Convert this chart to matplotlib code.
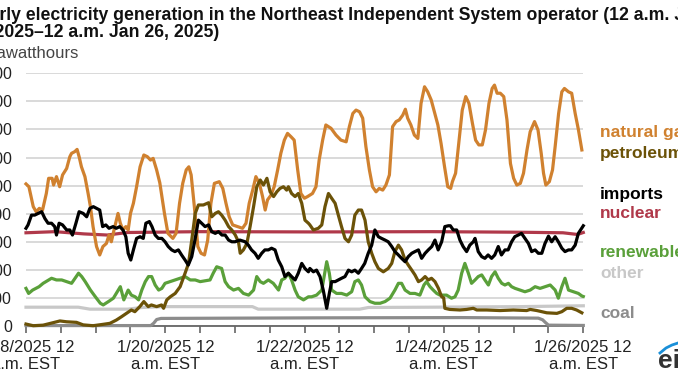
import numpy as np
import matplotlib.pyplot as plt
from matplotlib.lines import Line2D

plt.rcParams['font.family'] = ['Liberation Sans', 'DejaVu Sans']

# hourly generation, megawatthours; (hour since 12 a.m. Jan 18, value)
natural_gas = [(0, 5060), (1, 4960), (2.5, 4250), (3.5, 4070), (4.6, 4190), (5.7, 4130), (7, 4720), (7.8, 5260),
               (9, 5260), (9.5, 5020), (10.5, 5320), (11.6, 4960), (12.6, 5380), (14, 5610), (15.1, 6030),
               (15.7, 6150), (16.8, 6210), (17.6, 6290), (18.3, 6030), (19.1, 5670), (20.3, 5320), (21.4, 4720),
               (22.2, 4250), (23.1, 3540), (24.3, 2830), (25.4, 2530), (26.5, 2830), (27.7, 2940), (28.6, 3240),
               (29.4, 3000), (30.6, 3540), (31.7, 4010), (32.5, 3660), (33.4, 3420), (34.4, 3540), (35.2, 3420),
               (36, 4010), (37, 4370), (38.1, 4960), (39.3, 5670), (40.6, 6090), (41.8, 6030), (42.9, 5910),
               (43.8, 5970), (45, 5560), (46.1, 5100), (47.7, 4010), (48.9, 3300), (50.6, 3120), (51.7, 3300),
               (52.9, 4370), (54, 5080), (55.2, 5560), (56.1, 5670), (56.9, 5380), (58, 4250), (59.2, 2830),
               (60.3, 2590), (61.5, 2530), (62.6, 3060), (63.7, 4370), (64.9, 5080), (66.6, 5140), (67.8, 4900),
               (68.9, 4370), (70, 3890), (71.2, 3600), (72.9, 3540), (74.6, 3480), (75.8, 3660), (76.9, 4370),
               (78.1, 4840), (79.2, 5320), (80.4, 5080), (81.5, 4610), (82.4, 4130), (83.2, 4490), (84.4, 4660),
               (85.5, 4960), (86.7, 5560), (87.8, 6150), (89, 6620), (90.1, 6860), (91.3, 6740), (92.4, 6620),
               (93.6, 5560), (94.7, 4720), (95.9, 4550), (97, 4610), (98.7, 4720), (99.9, 4960), (101, 5910),
               (102.2, 6620), (103.3, 7160), (105.1, 7040), (106.8, 6800), (108.5, 6620), (110.3, 6560),
               (111.4, 7100), (112.6, 7570), (113.7, 7690), (114.9, 7630), (116, 7400), (117.1, 6390),
               (118.3, 5560), (119.4, 4960), (120.6, 4780), (121.7, 4900), (122.9, 4840), (124, 5020),
               (125.2, 5380), (126.3, 7100), (127.5, 7280), (128.6, 7340), (129.8, 7510), (130.7, 7720),
               (131.5, 7400), (132.6, 7160), (133.8, 6800), (135, 6680), (136.1, 7930), (137.3, 8520),
               (138.4, 8340), (139.6, 8050), (140.7, 7630), (141.9, 7160), (143, 6500), (144.2, 5670),
               (145.3, 4960), (146.3, 4900), (146.9, 5140), (148, 5440), (149.2, 6620), (150.3, 7690),
               (151.5, 8170), (152.6, 7930), (153.8, 7220), (154.9, 6620), (156, 6450), (157.2, 6450),
               (158.3, 6980), (159.5, 7930), (160.6, 8460), (161.4, 8580), (162.3, 8290), (163.4, 8290),
               (164.6, 8170), (165.7, 7340), (166.9, 5790), (168, 5260), (169.1, 5020), (170.3, 5080),
               (171.4, 5440), (172.6, 6270), (173.7, 6920), (175.2, 7280), (176.4, 6980), (177.5, 6150),
               (178.3, 5440), (179.1, 5020), (180.3, 5140), (181.4, 5560), (182.3, 6390), (183.5, 7570),
               (184.6, 8340), (185.5, 8460), (186.9, 8340), (188, 8290), (189.2, 7570), (190.3, 7000),
               (191.5, 6270)]

petroleum = [(0, 70), (2.5, 10), (5.9, 30), (9.4, 120), (11.7, 180), (14, 150), (17.4, 130), (19.7, 40),
             (23.1, 10), (26.6, 60), (28.9, 95), (31.1, 210), (32.9, 330), (34.6, 450), (36.3, 570), (37.5, 510),
             (39.2, 690), (40.6, 870), (42.1, 690), (43.2, 750), (45, 690), (46.7, 750), (47.4, 630), (48.5, 930),
             (49.7, 1040), (51.4, 1160), (53.1, 1400), (54.8, 1880), (56, 2230), (57.1, 3060), (58.3, 4010),
             (59.4, 4310), (61.1, 4310), (62.9, 4390), (64, 3890), (65.2, 4010), (66.3, 4070), (67.4, 3950),
             (68.6, 3770), (69.8, 3540), (70.9, 3420), (72.1, 3240), (73.2, 3000), (73.8, 2590), (74.9, 2710),
             (76.1, 2940), (77.2, 3540), (78.4, 4250), (79.5, 4960), (80.7, 5200), (81.8, 5020), (83, 5260),
             (84.1, 4780), (85.3, 4610), (86.4, 4780), (87.5, 4900), (88.7, 4960), (89.8, 4840), (90.4, 4960),
             (91.5, 4720), (92.7, 4610), (93.8, 4720), (95, 4370), (96.1, 3770), (97.3, 3660), (97.8, 3600),
             (99, 3420), (100.7, 3480), (101.9, 3600), (103, 4250), (104.2, 4720), (105.3, 4550), (106.5, 4370),
             (107.6, 3950), (108.7, 3540), (109.9, 3120), (111.1, 3000), (112.2, 3240), (113.3, 3950),
             (114.5, 4130), (115.6, 4130), (116.8, 3770), (117.9, 3000), (119.1, 2590), (120.2, 2290),
             (121.4, 2050), (123.1, 1930), (124.8, 2050), (126, 2230), (127.1, 2650), (128.3, 2880),
             (129.4, 2710), (130.6, 2350), (131.7, 2170), (132.9, 1990), (134, 1820), (135.2, 1580),
             (136.3, 1640), (137.5, 1760), (138.6, 1640), (139.7, 1700), (140.9, 1580), (142.1, 1340),
             (143.2, 1040), (143.9, 1000), (144.3, 630), (146, 590), (149.5, 570), (151.8, 590), (154.1, 630),
             (155.3, 570), (158.7, 570), (163.3, 550), (167.9, 570), (172.5, 550), (173.7, 590), (176, 550),
             (179.4, 470), (182.9, 450), (184.6, 510), (186.3, 630), (188, 630), (189.7, 570), (191.5, 470)]

imports = [(0, 3480), (0.7, 3600), (1.9, 3950), (3, 3950), (4.2, 4010), (5.4, 4070), (6.5, 3830), (7.6, 3660),
           (8.8, 3660), (9.9, 3540), (10.5, 3240), (11.4, 3660), (12.6, 3600), (14, 3420), (15.1, 3420),
           (16, 3240), (17.2, 3660), (18.3, 4070), (19.7, 4010), (20.9, 3890), (22, 4190), (23.2, 4250),
           (24.3, 4190), (25.4, 4130), (26.4, 3540), (27.5, 3600), (28.6, 3480), (30, 3540), (31.1, 3480),
           (32.3, 3540), (33.4, 3420), (34.4, 3180), (35.2, 2590), (36.1, 2350), (37, 2710), (38.1, 3120),
           (39.3, 3180), (40.4, 3120), (41.3, 3660), (42.5, 3720), (43.4, 3540), (44.5, 3240), (45.6, 3120),
           (46.8, 3120), (47.9, 3000), (49, 2830), (50.2, 2710), (51.3, 2650), (52.5, 2710), (53.6, 2530),
           (54.8, 2350), (55.9, 2170), (57.1, 2470), (58.2, 3060), (59.4, 3770), (60.5, 3660), (61.7, 3540),
           (62.9, 3600), (64, 3360), (65.2, 3300), (66.3, 3360), (67.5, 3240), (68.6, 3240), (69.8, 3060),
           (70.9, 3000), (72, 3000), (73.7, 3060), (75.5, 3000), (76.6, 2880), (77.7, 2710), (78.9, 2590),
           (80, 2410), (81.2, 2590), (82.3, 2710), (83.5, 2710), (84.6, 2770), (85.8, 2710), (86.9, 2350),
           (88.1, 2110), (89.2, 1760), (90.4, 1880), (91.5, 1760), (92.7, 1640), (93.8, 1880), (95, 2230),
           (96.1, 2050), (97.3, 1930), (97.8, 2050), (99, 1930), (100.1, 1990), (101.3, 1760), (102.4, 1280),
           (103.6, 630), (104.5, 1160), (105.3, 1580), (106.5, 1580), (107.6, 1640), (108.7, 1700),
           (109.9, 1760), (111.1, 1990), (112.2, 1930), (113.3, 1990), (114.5, 1880), (115.6, 2050),
           (116.7, 2230), (117.9, 2590), (119.1, 2880), (120.2, 3420), (121.4, 3180), (122.5, 3120),
           (123.7, 3060), (124.8, 3000), (126, 2830), (127.1, 2650), (128.3, 2530), (129.4, 2410),
           (130.6, 2290), (131.7, 2470), (132.9, 2590), (134, 2650), (135.2, 2710), (136.3, 2410),
           (137.5, 2590), (138.6, 2710), (139.8, 2830), (140.9, 3060), (142, 2710), (143.2, 3000),
           (144.3, 3540), (145.5, 3570), (146.2, 3570), (147.2, 3420), (148.4, 3420), (149.5, 3060),
           (150.6, 2830), (151.8, 2650), (152.9, 2880), (154.1, 3000), (154.7, 3120), (155.8, 2650),
           (157, 2470), (158.1, 2410), (159.2, 2530), (160.4, 2410), (161.5, 2530), (162.7, 2830),
           (163.8, 2530), (165, 2710), (166.1, 2710), (167.3, 3000), (168.4, 3180), (169.6, 3240),
           (170.7, 3300), (171.9, 3120), (173.1, 2940), (174.2, 2650), (175.4, 2710), (176.5, 2590),
           (177.7, 2590), (178.8, 2940), (180, 3200), (181.1, 3000), (182.3, 3180), (183.4, 3000),
           (184.6, 2770), (185.7, 2650), (186.9, 2710), (188, 2710), (189.2, 2880), (190.3, 3300), (192, 3570)]

nuclear = [(0, 3320), (10, 3360), (20, 3280), (28, 3240), (35, 3330), (60, 3360), (100, 3350), (140, 3360),
           (170, 3340), (185, 3320), (190, 3260), (192, 3330)]

renewables = [(0, 1340), (0.9, 1160), (2.3, 1280), (4.5, 1400), (5.9, 1520), (7.8, 1640), (8.8, 1700),
              (10.5, 1640), (12.3, 1640), (14, 1580), (15.7, 1520), (16.9, 1700), (18.1, 1880), (19.2, 1760),
              (20.4, 1580), (22.2, 1280), (23.9, 1040), (25.6, 810), (26.6, 750), (28.4, 870), (30.1, 990),
              (31.8, 1280), (32.5, 1400), (33.7, 930), (35.2, 1280), (36.3, 1100), (37.6, 1040), (38.8, 930),
              (39.9, 1280), (41.1, 1580), (42.2, 1760), (43.3, 1760), (44.5, 1460), (45.7, 1280), (46.8, 1340),
              (47.9, 1520), (49.6, 1580), (51.4, 1640), (53.1, 1700), (54.8, 1760), (56.6, 1640), (58.3, 1640),
              (60, 1580), (61.7, 1610), (63.4, 1640), (64.5, 1880), (65.7, 2110), (67.4, 2050), (68.6, 1580),
              (69.8, 1400), (71.5, 1280), (73.2, 1340), (74.9, 1160), (76.7, 1100), (78.4, 1280), (79.5, 1760),
              (80.7, 1580), (81.8, 1520), (83.5, 1640), (85.2, 1520), (87, 1280), (88.1, 1640), (89.2, 1700),
              (90.4, 1880), (91.5, 1640), (92.7, 1280), (93.8, 1040), (95.6, 930), (97.3, 1040), (98.4, 1040),
              (100.1, 1100), (101.9, 1280), (103.6, 2290), (104.5, 1880), (105.3, 1280), (107, 1160),
              (108.7, 1160), (110.5, 1100), (112.2, 1220), (113.3, 1580), (114.5, 1640), (115.6, 1460),
              (116.8, 1040), (118.5, 870), (120.2, 810), (122, 810), (123.7, 870), (125.4, 990), (127.1, 1280),
              (128.3, 1520), (129.4, 1520), (130.6, 1280), (132.3, 1160), (134, 1160), (135.7, 1100),
              (137.1, 1460), (138, 1580), (139.2, 1400), (140.3, 1280), (141.5, 1160), (142.6, 1100),
              (144.9, 1100), (146.6, 990), (147.8, 1040), (148.9, 1280), (150.1, 1880), (151.2, 2230),
              (152.4, 1880), (153.5, 1520), (154.7, 1640), (155.8, 1760), (157, 1820), (158.1, 1640),
              (159.3, 1460), (160.4, 1760), (161.6, 1930), (162.7, 1700), (163.9, 1520), (165, 1460),
              (166.2, 1520), (167.3, 1400), (168.5, 1340), (170.2, 1280), (171.9, 1220), (173.7, 1280),
              (175.4, 1400), (177.1, 1340), (178.8, 1400), (180.6, 1460), (182.3, 1280), (183.4, 990),
              (184.6, 1400), (185.7, 1700), (186.9, 1280), (188.6, 1220), (190.3, 1160), (191.5, 1070),
              (192, 1050)]

other = [(0, 670), (18, 670), (22, 600), (35, 600), (40, 660), (48, 690), (78, 690), (80, 600), (115, 600),
         (118, 660), (140, 670), (170, 690), (192, 720)]

coal = [(0, 15), (43, 15), (44, 100), (45, 230), (46.5, 270), (100, 290), (150, 300), (176.5, 280),
        (178, 220), (179, 120), (180, 30), (192, 20)]

series = [('coal', coal, '#8c8c8c'),
          ('other', other, '#c8c8c8'),
          ('renewables', renewables, '#5aa03a'),
          ('nuclear', nuclear, '#b0394a'),
          ('natural gas', natural_gas, '#d0812f'),
          ('petroleum', petroleum, '#6b5208'),
          ('imports', imports, '#000000')]

# label position on the right (value units)
label_y = {'natural gas': 6900, 'petroleum': 6150, 'imports': 4700, 'nuclear': 4000,
           'renewables': 2600, 'other': 1870, 'coal': 430}

x_labels = ['1/18/2025 12\na.m. EST', '1/20/2025 12\na.m. EST', '1/22/2025 12\na.m. EST',
            '1/24/2025 12\na.m. EST', '1/26/2025 12\na.m. EST']

W, H = 678, 381
fig = plt.figure(figsize=(W / 100, H / 100), dpi=100)
ax = fig.add_axes([26 / W, 55 / H, 557.3 / W, 252.7 / H])

for name, data, color in series:
    d = np.array(data, dtype=float)
    ax.plot(d[:, 0], d[:, 1], color=color, lw=2.3, solid_joinstyle='round', clip_on=False, zorder=3)
    ax.text(1.03, label_y[name], name, transform=ax.get_yaxis_transform(), color=color,
            fontsize=12.5, fontweight='bold', va='center', ha='left')

ax.set_xlim(0, 192)
ax.set_ylim(0, 9000)
ax.set_yticks(np.arange(0, 9001, 1000))
ax.set_yticklabels([f'{v:,}' for v in range(0, 9001, 1000)])
ax.set_xticks(np.arange(0, 193, 48))
ax.set_xticklabels(x_labels)
ax.set_xticks(np.arange(0, 193, 12), minor=True)

ax.yaxis.grid(True, color='#d9d9d9', lw=1.4)
ax.set_axisbelow(True)
for s in ['left', 'top', 'right']:
    ax.spines[s].set_visible(False)
ax.spines['bottom'].set_color('#666666')
ax.spines['bottom'].set_linewidth(1.3)
ax.tick_params(axis='y', length=0, pad=10, labelsize=11.5, labelcolor='#222222')
ax.tick_params(axis='x', which='both', length=5, width=1.2, color='#666666', pad=5,
               labelsize=12, labelcolor='#222222')

# title and units start left of the visible area (the picture is cropped)
fig.text(-35 / W, 1 - 20 / H,
         'Hourly electricity generation in the Northeast Independent System operator (12 a.m. Jan',
         fontsize=12.7, fontweight='bold', color='#111111', va='baseline', ha='left')
fig.text(-35 / W, 1 - 37 / H, '18, 2025\u201312 a.m. Jan 26, 2025)',
         fontsize=12.7, fontweight='bold', color='#111111', va='baseline', ha='left')
fig.text(-35 / W, 1 - 58 / H, 'megawatthours', fontsize=12, color='#444444', va='baseline', ha='left')

# eia logo
fig.text(658 / W, 1 - 368 / H, 'eia', fontsize=19, fontweight='bold', color='#333333', va='baseline')
fig.add_artist(Line2D([660 / W, 666 / W, 672 / W, 678 / W], [1 - 353 / H, 1 - 348 / H, 1 - 345 / H, 1 - 343 / H],
                      color='#1a8fd8', lw=2))

fig.savefig('out.png', dpi=100)
